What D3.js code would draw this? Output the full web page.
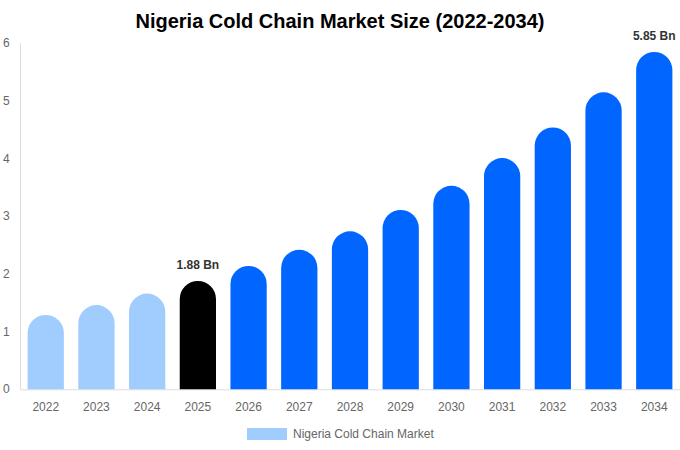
<!DOCTYPE html>
<html>
<head>
<meta charset="utf-8">
<script src="https://cdn.jsdelivr.net/npm/d3@7"></script>
<style>
  html, body { margin: 0; padding: 0; background: #fff; }
  svg { display: block; font-family: "Liberation Sans", Arial, sans-serif; }
</style>
</head>
<body>
<svg id="chart" width="680" height="450"></svg>
<script>
const years = ["2022","2023","2024","2025","2026","2027","2028","2029","2030","2031","2032","2033","2034"];
const values = [1.29, 1.46, 1.66, 1.88, 2.14, 2.42, 2.74, 3.11, 3.53, 4.01, 4.54, 5.15, 5.85];
const barKinds = ["past","past","past","current","future","future","future","future","future","future","future","future","future"];
const labelled = {"2025": "1.88 Bn", "2034": "5.85 Bn"};
const yTicks = [0, 1, 2, 3, 4, 5, 6];
const title = "Nigeria Cold Chain Market Size (2022-2034)";
const legendLabel = "Nigeria Cold Chain Market";

const colors = { past: "#a0cdfe", current: "#000000", future: "#0066ff" };

const svg = d3.select("#chart");
const margin = { left: 20, right: 0, top: 43, bottom: 61 };
const W = 680, H = 450;
const x = d3.scaleBand().domain(years).range([margin.left, W - margin.right]).paddingInner(0.285).paddingOuter(0.15);
const y = d3.scaleLinear().domain([0, 6]).range([389.3, 43.3]);

// title
svg.append("text").attr("x", 340).attr("y", 28).attr("text-anchor", "middle")
  .attr("font-size", 20).attr("font-weight", "bold").attr("fill", "#000").text(title);

// y axis line
svg.append("line").attr("x1", 20.5).attr("x2", 20.5).attr("y1", y(6)).attr("y2", y(0))
  .attr("stroke", "#dddddd").attr("stroke-width", 1);
// x baseline
svg.append("line").attr("x1", 20).attr("x2", 680).attr("y1", y(0) + 0.5).attr("y2", y(0) + 0.5)
  .attr("stroke", "#dddddd").attr("stroke-width", 1);

// y tick labels
svg.append("g").selectAll("text").data(yTicks).join("text")
  .attr("x", 3).attr("y", d => y(d) + 4).attr("font-size", 12).attr("fill", "#666")
  .text(d => d);

// x tick labels
svg.append("g").selectAll("text").data(years).join("text")
  .attr("x", d => x(d) + x.bandwidth() / 2).attr("y", 411).attr("text-anchor", "middle")
  .attr("font-size", 12).attr("fill", "#666").text(d => d);

// bars with rounded tops
function barPath(x0, w, yTop, yBase) {
  const r = w / 2;
  return `M${x0},${yBase} L${x0},${yTop + r} A${r},${r} 0 0 1 ${x0 + w},${yTop + r} L${x0 + w},${yBase} Z`;
}
svg.append("g").selectAll("path").data(years).join("path")
  .attr("d", (d, i) => barPath(x(d), x.bandwidth(), y(values[i]), y(0)))
  .attr("fill", (d, i) => colors[barKinds[i]]);

// value labels
svg.append("g").selectAll("text").data(years.filter(d => labelled[d])).join("text")
  .attr("x", d => x(d) + x.bandwidth() / 2)
  .attr("y", d => y(values[years.indexOf(d)]) - 12)
  .attr("text-anchor", "middle").attr("font-size", 12).attr("font-weight", "bold")
  .attr("fill", "#333").text(d => labelled[d]);

// legend
svg.append("rect").attr("x", 247).attr("y", 428).attr("width", 40).attr("height", 12).attr("fill", colors.past);
svg.append("text").attr("x", 293).attr("y", 438).attr("font-size", 12).attr("fill", "#666").text(legendLabel);
</script>
</body>
</html>
